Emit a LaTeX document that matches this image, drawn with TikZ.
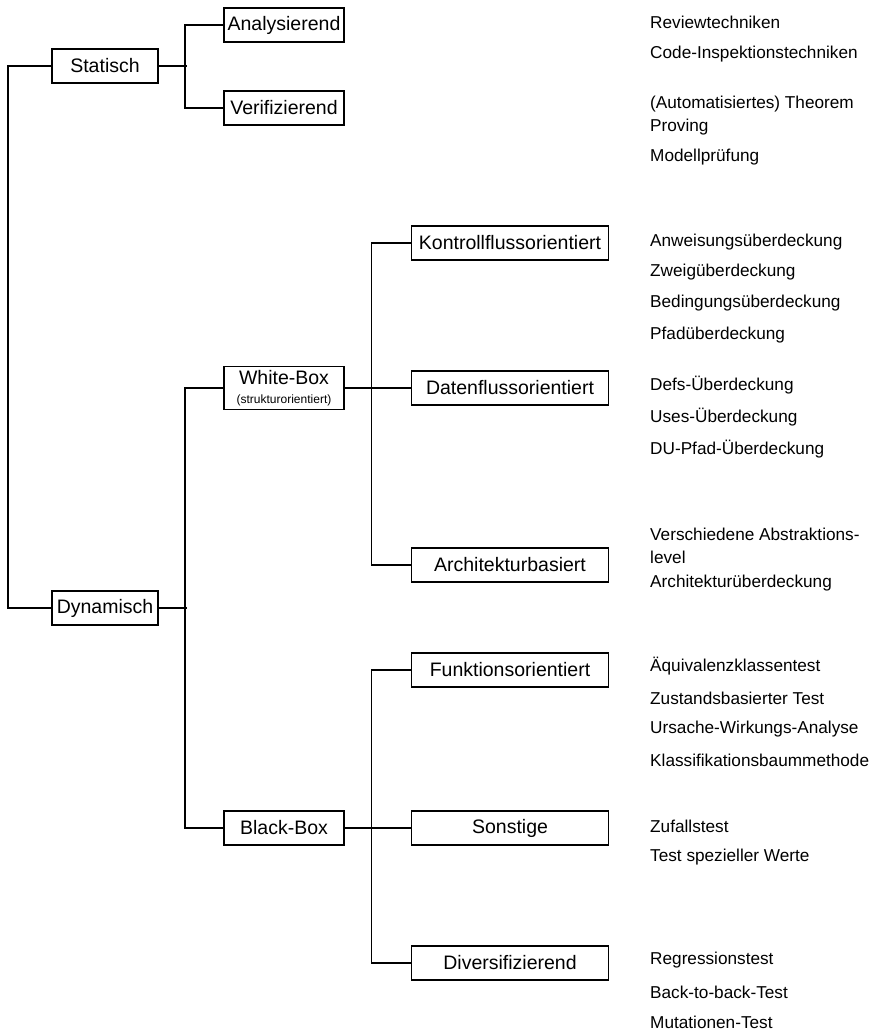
\documentclass[tikz,border=0pt]{standalone}
\usepackage{fontspec}
\setmainfont{Liberation Sans}
\begin{document}
\begin{tikzpicture}[x=1pt,y=-1pt,
  box/.style={draw,line width=1.7pt,rectangle,inner sep=0pt,minimum height=34pt,font=\fontsize{19.5}{22}\selectfont},
  lvlone/.style={box,minimum width=106pt},
  lvltwo/.style={box,minimum width=120pt},
  lvlthree/.style={box,minimum width=197pt},
  item/.style={anchor=west,inner sep=0pt,align=left,font=\fontsize{17.2}{23}\selectfont},
  link/.style={line width=1.6pt}]
\useasboundingbox (0,0) rectangle (876,1032);

% tree boxes
\node[lvlone] (stat) at (105,66) {Statisch};
\node[lvlone] (dyn) at (105,608) {Dynamisch};
\node[lvltwo] (ana) at (284,25) {Analysierend};
\node[lvltwo] (ver) at (284,108) {Verifizierend};
\node[lvltwo,minimum height=43pt,align=center] (wb) at (284,388)
  {White-Box\\[-3pt]{\fontsize{12}{13}\selectfont(strukturorientiert)}};
\node[lvltwo] (bb) at (284,828) {Black-Box};
\node[lvlthree] (kfo) at (510,243) {Kontrollflussorientiert};
\node[lvlthree] (dfo) at (510,388) {Datenflussorientiert};
\node[lvlthree] (arc) at (510,565) {Architekturbasiert};
\node[lvlthree] (fko) at (510,670) {Funktionsorientiert};
\node[lvlthree] (son) at (510,828) {Sonstige};
\node[lvlthree] (div) at (510,963) {Diversifizierend};

% connectors
\draw[link] (stat.west) -- ++(-43,0) |- (dyn.west);
\draw[link] (stat.east) -- ++(28,0);
\draw[link] (ana.west) -- ++(-38,0) |- (ver.west);
\draw[link] (dyn.east) -- ++(28,0);
\draw[link] (wb.west) -- ++(-38,0) |- (bb.west);
\draw[link] (wb.east) -- (dfo.west);
\draw[link] (kfo.west) -- ++(-39,0) |- (arc.west);
\draw[link] (bb.east) -- (son.west);
\draw[link] (fko.west) -- ++(-39,0) |- (div.west);

% technique lists
\node[item] (t1) at (650,22) {Reviewtechniken};
\node[item] (t2) at (650,54) {Code-Inspektionstechniken};
\node[item] (t3) at (650,116) {(Automatisiertes) Theorem\\Proving};
\node[item] (t4) at (650,157) {Modellprüfung};
\node[item] (t5) at (650,242) {Anweisungsüberdeckung};
\node[item] (t6) at (650,272) {Zweigüberdeckung};
\node[item] (t7) at (650,303) {Bedingungsüberdeckung};
\node[item] (t8) at (650,335) {Pfadüberdeckung};
\node[item] (t9) at (650,385) {Defs-Überdeckung};
\node[item] (t10) at (650,417) {Uses-Überdeckung};
\node[item] (t11) at (650,449) {DU-Pfad-Überdeckung};
\node[item] (t12) at (650,546) {Verschiedene Abstraktions-\\level};
\node[item] (t13) at (650,583) {Architekturüberdeckung};
\node[item] (t14) at (650,666) {Äquivalenzklassentest};
\node[item] (t15) at (650,698) {Zustandsbasierter Test};
\node[item] (t16) at (650,729) {Ursache-Wirkungs-Analyse};
\node[item] (t17) at (650,760) {Klassifikationsbaummethode};
\node[item] (t18) at (650,826) {Zufallstest};
\node[item] (t19) at (650,857) {Test spezieller Werte};
\node[item] (t20) at (650,960) {Regressionstest};
\node[item] (t21) at (650,992) {Back-to-back-Test};
\node[item] (t22) at (650,1022) {Mutationen-Test};
\end{tikzpicture}
\end{document}
